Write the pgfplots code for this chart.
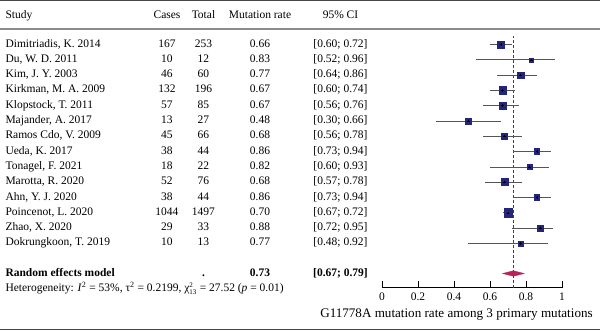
\documentclass[border=0pt]{standalone}
\usepackage{fontspec}
\setmainfont{Liberation Serif}
\usepackage{pgfplots}
\pgfplotsset{compat=1.18}
\usepackage{pgfplotstable}
\definecolor{boxc}{RGB}{36,36,120}
\definecolor{cic}{RGB}{85,85,85}
\definecolor{diac}{RGB}{180,35,90}
\definecolor{rulec}{RGB}{70,70,70}
\definecolor{hrulec}{RGB}{140,140,140}

% y = 331 - pixel row
\pgfplotstableread{
name m lo hi y s
1 0.66 0.60 0.72 286.5 3.7
2 0.83 0.52 0.96 271.2 2.0
3 0.77 0.64 0.86 255.9 3.2
4 0.67 0.60 0.74 240.6 3.7
5 0.67 0.56 0.76 225.3 3.5
6 0.48 0.30 0.66 210.0 2.9
7 0.68 0.56 0.78 194.7 3.2
8 0.86 0.73 0.94 179.4 2.9
9 0.82 0.60 0.93 164.1 2.4
10 0.68 0.57 0.78 148.8 3.5
11 0.86 0.73 0.94 133.5 2.9
12 0.70 0.67 0.72 118.2 4.1
13 0.88 0.72 0.95 102.9 2.7
14 0.77 0.48 0.92 87.6 2.4
}\studies
\pgfplotstablecreatecol[expr={\thisrow{hi}-\thisrow{m}}]{ep}{\studies}
\pgfplotstablecreatecol[expr={\thisrow{m}-\thisrow{lo}}]{em}{\studies}

\newcommand{\txt}{\fontsize{11.5}{13}\selectfont}
\begin{document}
\begin{tikzpicture}
\begin{axis}[
  scale only axis, width=180pt, height=287.7pt,
  xmin=0, xmax=1, ymin=43.3, ymax=331,
  clip=false,
  axis x line*=bottom, axis y line=none,
  x axis line style={black, line width=0.6pt},
  xtick={0,0.2,0.4,0.6,0.8,1},
  xticklabels={0,0.2,0.4,0.6,0.8,1},
  tick align=inside, major tick length=7pt,
  tick style={black, line width=0.6pt},
  xticklabel style={font=\txt, /pgf/number format/assume math mode=true, yshift=-2pt},
]
% bounding corners and rules
\coordinate (bl) at (axis cs:-2.1222,0);
\coordinate (tr) at (axis cs:1.2111,331);
\draw[rulec, line width=1pt] (axis cs:-2.1222,330.3) -- (axis cs:1.2111,330.3);
\draw[hrulec, line width=1.4pt] (axis cs:-2.1222,302) -- (axis cs:1.2111,302);
\draw[rulec, line width=1pt] (axis cs:-2.1222,1.2) -- (axis cs:1.2111,1.2);

% dashed summary line
\addplot[densely dashed, black!75, line width=0.6pt] coordinates {(0.73,43.3) (0.73,295)};

% CIs
\addplot[draw=none, mark=none, error bars/.cd, x dir=both, x explicit, error mark=none,
  error bar style={cic, line width=0.7pt}]
  table[x=m, y=y, x error plus=ep, x error minus=em] {\studies};
% boxes
\addplot[scatter, only marks, mark=square*,
  scatter/use mapped color={draw=boxc, fill=boxc},
  visualization depends on={\thisrow{s} \as \msz},
  scatter/@pre marker code/.append style={/tikz/mark size=\msz}]
  table[x=m, y=y] {\studies};
\addplot[only marks, mark=+, mark size=1.2pt, black, line width=0.4pt]
  table[x=m, y=y] {\studies};

% summary diamond
\addplot[fill=diac, draw=diac, line width=0.3pt] coordinates {(0.67,57.5) (0.73,60.3) (0.79,57.5) (0.73,54.7)} -- cycle;

% header
\node[anchor=base west, font=\txt] at (axis cs:-2.1111,312.5) {Study};
\node[anchor=base, font=\txt] at (axis cs:-1.1944,312.5) {Cases};
\node[anchor=base, font=\txt] at (axis cs:-0.9917,312.5) {Total};
\node[anchor=base, font=\txt] at (axis cs:-0.6778,312.5) {Mutation rate};
\node[anchor=base, font=\txt] at (axis cs:-0.2306,312.5) {95\% CI};

% rows
\foreach \nm/\ca/\tot/\mr/\ci/\yy in {
 {Dimitriadis, K. 2014}/167/253/0.66/{[0.60; 0.72]}/286.5,
 {Du, W. D. 2011}/10/12/0.83/{[0.52; 0.96]}/271.2,
 {Kim, J. Y. 2003}/46/60/0.77/{[0.64; 0.86]}/255.9,
 {Kirkman, M. A. 2009}/132/196/0.67/{[0.60; 0.74]}/240.6,
 {Klopstock, T. 2011}/57/85/0.67/{[0.56; 0.76]}/225.3,
 {Majander, A. 2017}/13/27/0.48/{[0.30; 0.66]}/210.0,
 {Ramos Cdo, V. 2009}/45/66/0.68/{[0.56; 0.78]}/194.7,
 {Ueda, K. 2017}/38/44/0.86/{[0.73; 0.94]}/179.4,
 {Tonagel, F. 2021}/18/22/0.82/{[0.60; 0.93]}/164.1,
 {Marotta, R. 2020}/52/76/0.68/{[0.57; 0.78]}/148.8,
 {Ahn, Y. J. 2020}/38/44/0.86/{[0.73; 0.94]}/133.5,
 {Poincenot, L. 2020}/1044/1497/0.70/{[0.67; 0.72]}/118.2,
 {Zhao, X. 2020}/29/33/0.88/{[0.72; 0.95]}/102.9,
 {Dokrungkoon, T. 2019}/10/13/0.77/{[0.48; 0.92]}/87.6}{
  \edef\temp{%
  \noexpand\node[anchor=west, font=\noexpand\txt] at (axis cs:-2.1111,\yy) {\noexpand\strut\nm};
  \noexpand\node[font=\noexpand\txt] at (axis cs:-1.1944,\yy) {\noexpand\strut\ca};
  \noexpand\node[font=\noexpand\txt] at (axis cs:-0.9917,\yy) {\noexpand\strut\tot};
  \noexpand\node[font=\noexpand\txt] at (axis cs:-0.6778,\yy) {\noexpand\strut\mr};
  \noexpand\node[font=\noexpand\txt] at (axis cs:-0.2306,\yy) {\noexpand\strut\ci};}%
  \temp
}

\node[anchor=west, font=\txt\bfseries] at (axis cs:-2.1111,57.5) {\strut Random effects model};
\node[font=\txt\bfseries] at (axis cs:-0.9917,57.5) {\strut .};
\node[font=\txt\bfseries] at (axis cs:-0.6778,57.5) {\strut 0.73};
\node[font=\txt\bfseries] at (axis cs:-0.2306,57.5) {\strut [0.67; 0.79]};
\node[anchor=west, font=\txt] at (axis cs:-2.1111,42) {\strut Heterogeneity: \textit{I}\textsuperscript{2} = 53\%, τ\textsuperscript{2} = 0.2199, χ$^{\mbox{\scriptsize 2}}_{\mbox{\scriptsize 13}}$ = 27.52 (\textit{p} = 0.01)};

\node[font=\fontsize{13.1}{15}\selectfont] at (axis cs:0.414,16.5) {G11778A mutation rate among 3 primary mutations};
\end{axis}
\pgfresetboundingbox
\path (bl) rectangle (tr);
\end{tikzpicture}
\end{document}
